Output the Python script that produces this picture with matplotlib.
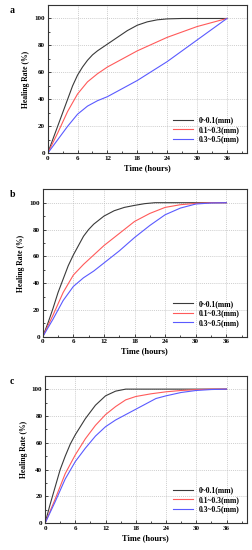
import numpy as np
import matplotlib
matplotlib.use("Agg")
from matplotlib import pyplot as plt
from matplotlib.ticker import MultipleLocator

plt.rcParams['font.family'] = ['Liberation Serif', 'DejaVu Serif']
plt.rcParams['font.weight'] = 'bold'

labels = ["0~0.1(mm)", "0.1~0.3(mm)", "0.3~0.5(mm)"]
colors = ["#3a3a3a", "#ff5a5a", "#5a5aff"]

# panel a
a_t0 = [0, 1, 2, 3, 4, 5, 6, 7, 8, 9, 10, 12, 14, 16, 18, 20, 22, 24, 27, 36]
a_y0 = [0, 10, 20, 30, 40, 50, 58, 64, 69, 73, 76, 81, 86, 91, 95, 97.5, 99, 99.7, 100, 100]
a_t1 = [0, 2, 4, 6, 8, 10, 12, 15, 18, 21, 24, 27, 30, 33, 36]
a_y1 = [0, 15, 31, 44, 53, 59, 64, 70, 76, 81, 86, 90, 94, 97, 100]
a_t2 = [0, 2, 4, 6, 8, 10, 12, 15, 18, 21, 24, 27, 30, 33, 36]
a_y2 = [0, 10, 20, 29, 35, 39, 42, 48, 54, 61, 68, 76, 84, 92, 100]

# panel b
b_t0 = [0, 1, 2, 3, 4, 5, 6, 7, 8, 9, 10, 12, 14, 16, 18, 20, 22, 36]
b_y0 = [0, 10, 21, 33, 43, 53, 61, 68, 75, 80, 84, 90, 94, 96.5, 98, 99.3, 100, 100]
b_t1 = [0, 2, 4, 6, 8, 10, 12, 15, 18, 21, 24, 27, 30, 33, 36]
b_y1 = [0, 16, 33, 46, 54, 61, 68, 77, 86, 92, 96.5, 98.5, 99.5, 100, 100]
b_t2 = [0, 2, 4, 6, 8, 10, 12, 15, 18, 21, 24, 27, 30, 33, 36]
b_y2 = [0, 13, 27, 37.5, 44, 49, 55, 64, 74, 83, 91, 96, 99, 99.8, 100]

# panel c
c_t0 = [0, 1, 2, 3, 4, 5, 6, 8, 10, 12, 14, 16, 36]
c_y0 = [0, 14, 27, 40, 50, 59, 66, 78, 88, 95, 98.5, 100, 100]
c_t1 = [0, 2, 4, 6, 8, 10, 12, 14, 16, 18, 21, 24, 27, 30, 33, 36]
c_y1 = [0, 18, 37, 51, 63, 73, 81, 87, 92, 94.5, 96.5, 98, 99, 99.6, 100, 100]
c_t2 = [0, 2, 4, 6, 8, 10, 12, 14, 16, 18, 20, 22, 24, 27, 30, 33, 36]
c_y2 = [0, 16, 33, 46, 56, 65, 72, 77, 81, 85, 89, 93, 95, 97.5, 99, 99.7, 100]

panels = [
    ("a", [0.1885, 0.7213, 0.787, 0.2696], [(a_t0, a_y0), (a_t1, a_y1), (a_t2, a_y2)]),
    ("b", [0.169, 0.3878, 0.806, 0.268], [(b_t0, b_y0), (b_t1, b_y1), (b_t2, b_y2)]),
    ("c", [0.178, 0.0485, 0.797, 0.2684], [(c_t0, c_y0), (c_t1, c_y1), (c_t2, c_y2)]),
]

fig = plt.figure(figsize=(2.53, 5.5), dpi=100)

for letter, pos, series in panels:
    ax = fig.add_axes(pos)
    for (t, y), c, lab in zip(series, colors, labels):
        ax.plot(t, y, color=c, lw=0.8, label=lab)
    ax.set_xlim(0, 40)
    ax.set_ylim(0, 110)
    ax.xaxis.set_major_locator(MultipleLocator(6))
    ax.xaxis.set_minor_locator(MultipleLocator(3))
    ax.yaxis.set_major_locator(MultipleLocator(20))
    ax.yaxis.set_minor_locator(MultipleLocator(10))
    ax.set_xticks([0, 6, 12, 18, 24, 30, 36])
    ax.grid(True, which='major', ls=(0, (1.5, 1.5)), color='#bdbdbd', lw=0.5)
    ax.tick_params(direction='in', which='both', labelsize=5, length=2, width=0.5, pad=2)
    ax.tick_params(which='minor', length=1.2)
    for s in ax.spines.values():
        s.set_linewidth(0.8)
        s.set_color('#333333')
    ax.set_xlabel("Time (hours)", fontsize=6, fontweight='bold', labelpad=2)
    ax.set_ylabel("Healing Rate (%)", fontsize=5.5, fontweight='bold', labelpad=3)
    ax.legend(loc='lower right', frameon=False, fontsize=5.5, handlelength=2.6,
              labelspacing=0.2, borderaxespad=0.5, bbox_to_anchor=(1.0, 0.02))
    fig.text(0.04, pos[1] + pos[3] - 0.01, letter, fontsize=7, fontweight='bold',
             ha='left', va='center')

fig.savefig("out.png", dpi=100)
